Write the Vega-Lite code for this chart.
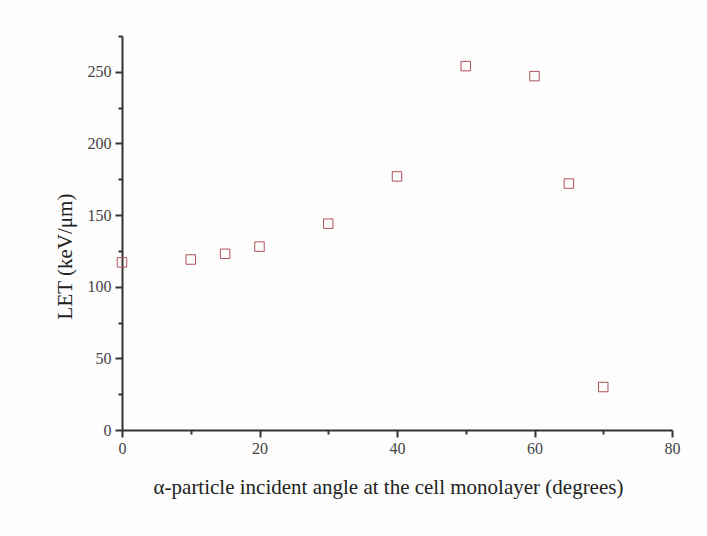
{
  "$schema": "https://vega.github.io/schema/vega-lite/v6.json",
  "autosize": "none",
  "width": 550,
  "height": 394,
  "padding": {"left": 122, "top": 36, "right": 35, "bottom": 106},
  "background": "#fdfdfd",
  "config": {"view": {"stroke": null}},
  "data": {"values": [
    {"angle": 0, "LET": 117},
    {"angle": 10, "LET": 119},
    {"angle": 15, "LET": 123},
    {"angle": 20, "LET": 128},
    {"angle": 30, "LET": 144},
    {"angle": 40, "LET": 177},
    {"angle": 50, "LET": 254},
    {"angle": 60, "LET": 247},
    {"angle": 65, "LET": 172},
    {"angle": 70, "LET": 30}
  ]},
  "mark": {"type": "point", "shape": "square", "filled": false, "size": 90, "stroke": "#b0505a", "strokeWidth": 1, "opacity": 1},
  "encoding": {
    "x": {
      "field": "angle", "type": "quantitative",
      "scale": {"domain": [0, 80], "nice": false, "zero": false},
      "axis": {
        "title": "α-particle incident angle at the cell monolayer (degrees)",
        "values": [0, 10, 20, 30, 40, 50, 60, 70, 80],
        "labelExpr": "datum.value % 20 === 0 ? datum.label : ''",
        "tickSize": {"condition": {"test": "datum.value % 20 === 0", "value": 7}, "value": 4},
        "labelFlush": false,
        "labelOverlap": false,
        "grid": false,
        "domainColor": "#333333", "domainWidth": 2,
        "tickColor": "#333333", "tickWidth": 2,
        "labelFont": "Liberation Serif", "labelFontSize": 16, "labelColor": "#444444",
        "labelPadding": 3,
        "titleFont": "Liberation Serif", "titleFontSize": 21, "titleFontWeight": "normal", "titleColor": "#222222",
        "titlePadding": 20,
        "titleX": 266
      }
    },
    "y": {
      "field": "LET", "type": "quantitative",
      "scale": {"domain": [0, 275], "nice": false},
      "axis": {
        "title": "LET (keV/μm)",
        "values": [0, 25, 50, 75, 100, 125, 150, 175, 200, 225, 250, 275],
        "labelExpr": "datum.value % 50 === 0 ? datum.label : ''",
        "tickSize": {"condition": {"test": "datum.value % 50 === 0", "value": 7}, "value": 4},
        "labelFlush": false,
        "labelOverlap": false,
        "grid": false,
        "domainColor": "#333333", "domainWidth": 2,
        "tickColor": "#333333", "tickWidth": 2,
        "labelFont": "Liberation Serif", "labelFontSize": 16, "labelColor": "#444444",
        "labelPadding": 4,
        "titleFont": "Liberation Serif", "titleFontSize": 21, "titleFontWeight": "normal", "titleColor": "#222222",
        "titlePadding": 12,
        "titleY": 220
      }
    }
  }
}
